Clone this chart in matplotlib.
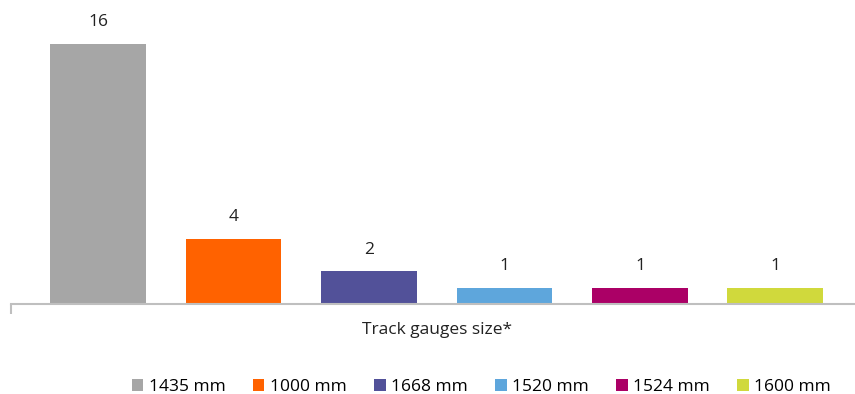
import numpy as np
import matplotlib.pyplot as plt

plt.rcParams['font.family'] = ['Open Sans', 'DejaVu Sans']

series = ['1435 mm', '1000 mm', '1668 mm', '1520 mm', '1524 mm', '1600 mm']
values = [16, 4, 2, 1, 1, 1]
colors = ['#A6A6A6', '#FF6200', '#525199', '#5EA6DC', '#AB0066', '#D0D93C']
category = 'Track gauges size*'

fig = plt.figure(figsize=(8.55, 3.94), dpi=100)
ax = fig.add_axes([11 / 855, 90 / 394, 1 - 11 / 855, 304 / 394])

x = np.arange(len(values))
bars = []
for i in range(len(values)):
    b = ax.bar(x[i], values[i], width=0.708, color=colors[i], label=series[i], zorder=2)
    bars.append(b)
    ax.text(x[i], values[i] + 0.85, str(values[i]), ha='center', va='bottom',
            fontsize=12.5, color='#222222')

ax.set_xlim(-0.642, 5.587)
ax.set_ylim(0, 18.7)

for s in ['top', 'right', 'left']:
    ax.spines[s].set_visible(False)
ax.spines['bottom'].set_color('#BFBFBF')
ax.spines['bottom'].set_linewidth(1.5)
ax.spines['bottom'].set_zorder(3)
ax.set_yticks([])
ax.set_xticks([-0.642])
ax.set_xticklabels([''])
ax.tick_params(axis='x', length=7, width=1.5, color='#BFBFBF', direction='out')

ax.text(0.505, -0.085, category, transform=ax.transAxes, ha='center', va='center',
        fontsize=12.5, color='#222222')

leg = fig.legend(handles=[b[0] for b in bars], labels=series, loc='center',
                 bbox_to_anchor=(0.563, 7 / 394), ncol=6, frameon=False,
                 fontsize=12.5, handlelength=0.65, handleheight=0.65, handletextpad=0.3,
                 columnspacing=1.6)

fig.savefig('out.png', dpi=100)
